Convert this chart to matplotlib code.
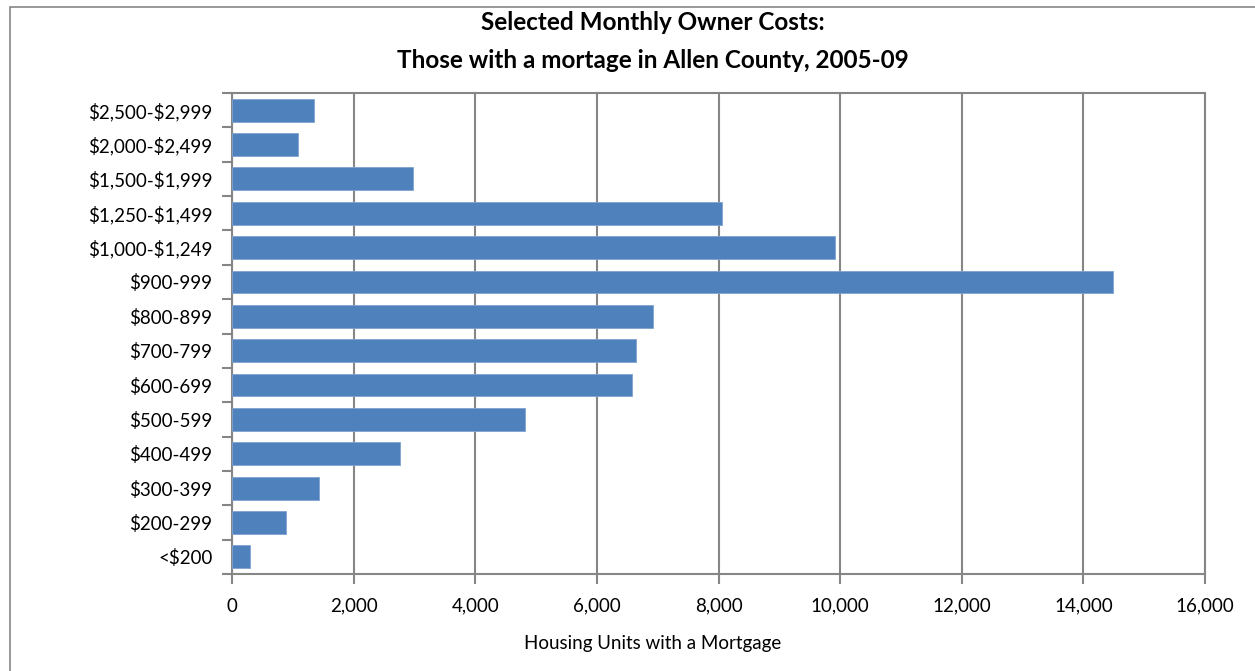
import matplotlib.pyplot as plt
from matplotlib.patches import Rectangle
from matplotlib.ticker import FuncFormatter
import numpy as np

plt.rcParams['font.family'] = ['Lato', 'DejaVu Sans']
plt.rcParams['text.parse_math'] = False

categories = ["<$200", "$200-299", "$300-399", "$400-499", "$500-599", "$600-699",
              "$700-799", "$800-899", "$900-999", "$1,000-$1,249", "$1,250-$1,499",
              "$1,500-$1,999", "$2,000-$2,499", "$2,500-$2,999"]
units = [296, 888, 1431, 2763, 4819, 6579, 6645, 6924, 14490, 9918, 8059, 2977, 1086, 1349]

grid_col = "#868686"
bar_col = "#4F81BD"

fig = plt.figure(figsize=(12.55, 6.71), dpi=100)
ax = fig.add_axes([232 / 1255, 1 - 574 / 671, (1205 - 232) / 1255, (574 - 93) / 671])

# outer chart frame (cut off at right and bottom like the reference)
fig.patches.append(Rectangle((10 / 1255, -0.1), 1.2, 1 - 7 / 671 + 0.1,
                             transform=fig.transFigure, fill=False,
                             edgecolor=grid_col, linewidth=1.2))

y = np.arange(len(categories))
ax.barh(y, units, height=0.667, color=bar_col, edgecolor="#7FA3D0", linewidth=0.6, zorder=3)

ax.set_xlim(0, 16000)
ax.set_ylim(-0.5, len(categories) - 0.5)
ax.set_xticks(np.arange(0, 16001, 2000))
ax.xaxis.set_major_formatter(FuncFormatter(lambda v, p: f"{int(v):,}"))
ax.grid(axis="x", color=grid_col, linewidth=1.5, zorder=0)

ax.set_yticks(y)
ax.set_yticklabels(categories)
ax.set_yticks(np.arange(-0.5, len(categories), 1), minor=True)
ax.tick_params(axis="y", which="major", length=0, pad=14, labelsize=13.5)
ax.tick_params(axis="y", which="minor", length=7, width=1.5, color=grid_col)
ax.tick_params(axis="x", length=7, width=1.5, color=grid_col, pad=10, labelsize=13.5)

for s in ax.spines.values():
    s.set_color(grid_col)
    s.set_linewidth(1.5)

fig.text(653 / 1255, 1 - 644 / 671, "Housing Units with a Mortgage", ha="center", va="center",
         fontsize=13.5)

fig.text(653 / 1255, 1 - 23 / 671, "Selected Monthly Owner Costs:", ha="center", va="center",
         fontsize=17.5, fontweight="bold")
fig.text(653 / 1255, 1 - 60 / 671, "Those with a mortage in Allen County, 2005-09", ha="center",
         va="center", fontsize=17.5, fontweight="bold")

fig.savefig("out.png", dpi=100)
